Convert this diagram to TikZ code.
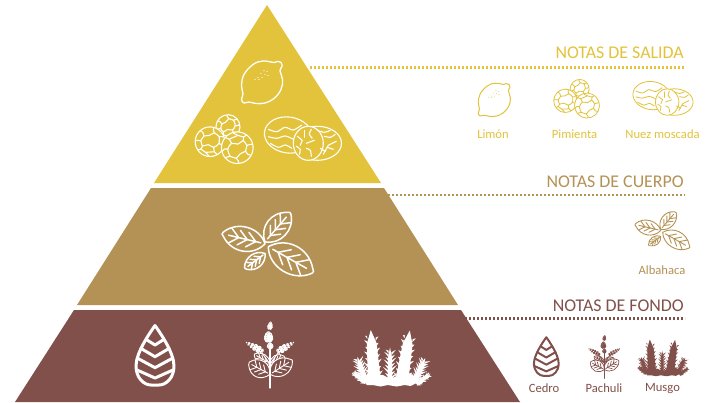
\documentclass[tikz,border=0pt]{standalone}
\usepackage{fontspec}
\setmainfont{Carlito}
\definecolor{yel}{HTML}{E2C33B}
\definecolor{tan}{HTML}{B49255}
\definecolor{bro}{HTML}{82504A}
\tikzset{
 dotrule/.style={line width=2.5pt,dash pattern=on 2.4pt off 1.6pt},
 head/.style={anchor=east,inner sep=0pt,font=\fontsize{17.9}{19}\selectfont},
 lab/.style={anchor=center,inner sep=0pt,font=\fontsize{12.6}{13}\selectfont},
 ink/.style={draw=inkc,line cap=round,line join=round}
}
% lemon
\newcommand\iconLemon[4]{\begin{scope}[shift={(#1,#2)},scale=#3]
 \draw[ink,line width=#4pt,fill=paperc] plot[smooth cycle,tension=.65] coordinates {(12,-20)(15,-21)(19,-20)(20,-16)(18,-12)(20.5,-3)(19,7)(12,16)(3,20.5)(-6,21)(-13,19.5)(-18,20.5)(-20.5,17)(-19,11.5)(-20.5,3)(-18,-8)(-9,-18)(1,-21.5)};
 \foreach \p in {(2,-12),(5,-11),(-1,-9),(3,-8),(6,-7),(-4,-5),(0,-5),(-7,-3),(-3,-3)}
  \fill[inkc] \p circle (.6);
\end{scope}}
% one ball
\newcommand\iconBall[5]{\begin{scope}[shift={(#1,#2)},scale=#3,rotate=#4]
 \fill[paperc] (0,0) circle (1);
 \begin{scope}[ink,line width=#5pt]
 \clip (0,0) circle (1);
 \draw plot[smooth] coordinates {(-1,-.12)(-.62,-.08)(-.42,-.38)(-.05,-.42)(.3,-.6)(.62,-.35)(.98,-.35)};
 \draw plot[smooth] coordinates {(-.62,-.08)(-.5,.28)(-.12,.2)(.25,.38)(.6,.12)(.62,-.35)};
 \draw plot[smooth] coordinates {(-.42,-.38)(-.48,-.62)(-.72,-.78)};
 \draw plot[smooth] coordinates {(.3,-.6)(.22,-.82)(.3,-1)};
 \draw plot[smooth] coordinates {(.6,.12)(.8,.2)(1,.1)};
 \draw plot[smooth] coordinates {(.25,.38)(.3,.68)(.55,.9)};
 \draw plot[smooth] coordinates {(-.5,.28)(-.62,.5)(-.85,.55)};
 \draw plot[smooth] coordinates {(-.62,.5)(-.3,.72)(-.05,1)};
 \draw plot[smooth] coordinates {(-.3,.72)(.3,.68)};
 \end{scope}
 \draw[ink,line width=#5pt] (0,0) circle (1);
\end{scope}}
\newcommand\iconPimienta[4]{\begin{scope}[shift={(#1,#2)},scale=#3]
 \iconBall{5.5}{-13.6}{12}{20}{#4}
 \iconBall{-12.5}{1.4}{14.8}{0}{#4}
 \iconBall{14.8}{7.4}{15.8}{200}{#4}
\end{scope}}
\newcommand\iconNuez[4]{\begin{scope}[shift={(#1,#2)},scale=#3]
 \begin{scope}[ink,line width=#4pt]
 \draw[fill=paperc,rotate around={-8:(-14,-5.3)}] (-14,-5.3) ellipse (24 and 18);
 \draw plot[smooth] coordinates {(-34,-11)(-25.6,-8.6)(-17.3,-13)(-9,-10.3)(-.6,-15.3)};
 \draw plot[smooth] coordinates {(-34,-3.6)(-25.6,-2)(-17,-4.3)(-9,-1)};
 \draw plot[smooth] coordinates {(-32,3)(-24,7)(-17,4.7)(-10.6,8)};
 \draw[fill=paperc] (15.2,3) ellipse (24 and 17);
 \draw[fill=paperc] (6,3) ellipse (15 and 17);
 \draw (2,-10)--(2,-3);
 \draw plot[smooth] coordinates {(9,-11)(7,-6)(10,-2)};
 \draw (-5,-4)--(0,0)--(-2,5);
 \draw (4,3)--(12,0);
 \draw plot[smooth] coordinates {(-6,6)(-2,9)(-3,14)};
 \draw plot[smooth] coordinates {(4,8)(8,10)(9,16)};
 \draw plot[smooth] coordinates {(15,-10)(22,-8)(28,-10)};
 \draw plot[smooth] coordinates {(22,-4)(28,-3)(33,-6)};
 \draw (21,14)--(26,5)--(34,1);
 \draw (25,7)--(31,9);
 \draw (23,11)--(18,8);
 \end{scope}
\end{scope}}
% leaf: base x,y, angle, length, half-width, line width
\newcommand\leafy[6]{\begin{scope}[shift={(#1,#2)},rotate=#3]
 \begin{scope}[ink,line width=#6pt]
 \draw[fill=paperc] (0,0) .. controls ({.2*#4},{1.25*#5}) and ({.75*#4},{1.35*#5}) .. (#4,{.12*#5}) .. controls ({1.02*#4},0) and ({1.02*#4},{-.1*#5}) .. ({.97*#4},{-.2*#5}) .. controls ({.7*#4},{-1.4*#5}) and ({.2*#4},{-1.25*#5}) .. (0,0) -- cycle;
 \draw ({.1*#4},0)--({.86*#4},0);
 \foreach \t in {.22,.42,.62}{
  \draw ({\t*#4},0)--({(\t+.2)*#4},{.62*#5});
  \draw ({\t*#4},0)--({(\t+.2)*#4},{-.62*#5});}
 \end{scope}
\end{scope}}
\newcommand\iconAlbahaca[4]{\begin{scope}[shift={(#1,#2)},scale=#3]
 \leafy{-3}{9.7}{-143}{25}{7}{#4}
 \leafy{-3}{0}{166.7}{43.5}{12}{#4}
 \leafy{-3}{-2}{49.2}{38}{11}{#4}
 \leafy{.3}{3}{-29.4}{51}{14}{#4}
\end{scope}}
\newcommand\iconCedro[4]{\begin{scope}[shift={(#1,#2)},scale=#3]
 \begin{scope}[ink,line width=#4pt]
 \draw (0,-29.5) .. controls (-6,-21) and (-19,-2) .. (-19,11) .. controls (-19,23) and (-11,30) .. (-4,30) -- (4,30) .. controls (11,30) and (19,23) .. (19,11) .. controls (19,-2) and (6,-21) .. (0,-29.5) -- cycle;
 \draw (-8,-15)--(0,-10)--(8,-15);
 \draw (-14,-6.5)--(0,1.7)--(14,-6.5);
 \draw (-17,3.5)--(0,12.7)--(17,3.5);
 \draw (-18,15)--(0,23)--(18,15);
 \end{scope}
\end{scope}}
% flower cluster: x,y,angle,length,size
\newcommand\flower[5]{\begin{scope}[shift={(#1,#2)},rotate=#3]
 \foreach \t/\r/\o in {.08/2.2/1.2,.27/2.6/1.7,.48/2.5/1.6,.68/2.1/1.3,.86/1.6/.8,1/.9/0}{
  \fill[inkc] ({\t*#4},{\o*#5}) circle ({\r*#5});
  \fill[inkc] ({\t*#4},{-\o*#5}) circle ({\r*#5*.95});
  \fill[paperc] ({\t*#4+.5},{(\o+.4)*#5}) circle ({.26*#5});
  \fill[paperc] ({\t*#4-.5},{(-\o-.3)*#5}) circle ({.26*#5});}
\end{scope}}
\newcommand\iconPachuli[4]{\begin{scope}[shift={(#1,#2)},scale=#3]
 \leafy{0}{8.3}{150.6}{18}{5}{#4}
 \leafy{0}{8.3}{24}{16}{5}{#4}
 \leafy{0}{19.3}{152}{24}{8.5}{#4}
 \leafy{0}{19.3}{32.5}{26}{8.5}{#4}
 \draw[ink,line width=1.3*#4 pt] (0,33)--(0,-8);
 \draw[ink,line width=#4pt] (0,9)--(-8,-2) (0,9)--(8,-2);
 \flower{-7}{-3}{150}{19}{.9}
 \flower{7}{-3}{30}{19}{.9}
 \flower{0}{-7}{90}{5}{.8}
 \flower{-1.5}{-14}{90}{9}{1.1}
 \flower{-.5}{-26}{80}{7}{.7}
\end{scope}}
% moss frond: x,y,rot,len,w,spike
\newcommand\frond[6]{\begin{scope}[shift={(#1,#2)},rotate=#3]
 \fill[inkc] ({-#5},0)--({-.75*#5},{.8*#4})--(0,{1.08*#4})--({.75*#5},{.8*#4})--({#5},0)--cycle;
 \foreach \t/\k in {.1/1,.22/.6,.34/1.1,.46/.7,.58/1,.7/.6,.82/.9,.93/.6}{
  \pgfmathsetmacro\ww{#5*(1-.35*\t)}
  \fill[inkc,line join=round] ({-\ww+.3},{\t*#4-1.4})--({-\ww-#6*\k},{\t*#4+#6*\k})--({-\ww+.3},{\t*#4+1.6})--cycle;
 }
 \foreach \t/\k in {.05/.8,.16/1,.28/.6,.4/1.1,.52/.7,.64/1,.76/.7,.88/.9}{
  \pgfmathsetmacro\ww{#5*(1-.35*\t)}
  \fill[inkc] ({\ww-.3},{\t*#4-1.4})--({\ww+#6*\k},{\t*#4+#6*\k})--({\ww-.3},{\t*#4+1.6})--cycle;
 }
\end{scope}}
\newcommand\iconMusgo[3]{\begin{scope}[shift={(#1,#2)},scale=#3,y=1pt]
 \frond{-16.3}{-21.7}{4}{48}{6.5}{3}
 \frond{11}{-21.7}{-9}{48}{6.5}{3}
 \frond{-.7}{-23}{0}{33}{2.4}{4.5}
 \frond{-25.7}{-21.7}{17}{24}{2.6}{4.5}
 \frond{-25}{-23}{50}{16}{1.4}{2.5}
 \frond{24}{-21.7}{-24}{24}{2.6}{4.5}
 \frond{26}{-24.3}{-52}{16}{1.4}{2.5}
 \fill[inkc] (-28,-18)--(-20,-14)--(-8,-15)--(0,-19)--(8,-15)--(20,-14)--(29,-19)--(26,-23)--(20,-26)--(14,-25)--(6,-26.5)--(-3,-25)--(-10,-26.5)--(-18,-25)--(-24,-25)--cycle;
\end{scope}}

\begin{document}
\begin{tikzpicture}[x=1pt,y=-1pt]
\useasboundingbox (0,0) rectangle (708,402);
\fill[white] (0,0) rectangle (708,402);
% tiers
\fill[yel] (267,5)--(381,183)--(154,183)--cycle;
\fill[tan] (151,188)--(384,188)--(458,305)--(77,305)--cycle;
\fill[bro] (74,310)--(461,310)--(520,402)--(15,402)--cycle;
% dotted rules and headings
\coordinate (r1a) at (310,67.5); \coordinate (r1b) at (685,67.5);
\coordinate (r2a) at (388,195.2); \coordinate (r2b) at (685,195.2);
\coordinate (r3a) at (465,318.7); \coordinate (r3b) at (685,318.7);
\draw[dotrule,yel] (r1a)--(r1b);
\draw[dotrule,tan] (r2a)--(r2b);
\draw[dotrule,bro] (r3a)--(r3b);
\node[head,text=yel] (h1) at (684,52.5) {NOTAS DE SALIDA};
\node[head,text=tan] (h2) at (684,181.5) {NOTAS DE CUERPO};
\node[head,text=bro] (h3) at (684,305.5) {NOTAS DE FONDO};
% labels
\node[lab,text=yel] (l1) at (493,134) {Limón};
\node[lab,text=yel] (l2) at (574.5,134) {Pimienta};
\node[lab,text=yel] (l3) at (662.5,134) {Nuez moscada};
\node[lab,text=tan] (l4) at (662,270) {Albahaca};
\node[lab,text=bro] (l5) at (544,388.5) {Cedro};
\node[lab,text=bro] (l6) at (604,388.5) {Pachuli};
\node[lab,text=bro] (l7) at (662.5,388.5) {Musgo};
% big icons
\colorlet{inkc}{white}\colorlet{paperc}{yel}
\iconLemon{262}{82.5}{1}{1.3}
\iconPimienta{222.5}{140.3}{1}{1.1}
\iconNuez{302.3}{140.3}{1}{1.1}
\colorlet{paperc}{tan}
\iconAlbahaca{268}{243.8}{1}{1.5}
\colorlet{paperc}{bro}
\iconCedro{155}{355}{1}{3}
\iconPachuli{270}{355}{1}{.9}
\iconMusgo{390.7}{360}{1}
% small icons
\colorlet{inkc}{yel}\colorlet{paperc}{white}
\iconLemon{494.3}{100}{.78}{1}
\iconPimienta{575.3}{99.7}{.79}{.8}
\iconNuez{662.5}{99.7}{.78}{.8}
\colorlet{inkc}{tan}
\iconAlbahaca{662.5}{230.5}{.6}{.9}
\colorlet{inkc}{bro}
\iconCedro{546.3}{356.4}{.65}{2}
\iconPachuli{604.3}{357}{.65}{.7}
\iconMusgo{662.7}{359}{.65}
\end{tikzpicture}
\end{document}
